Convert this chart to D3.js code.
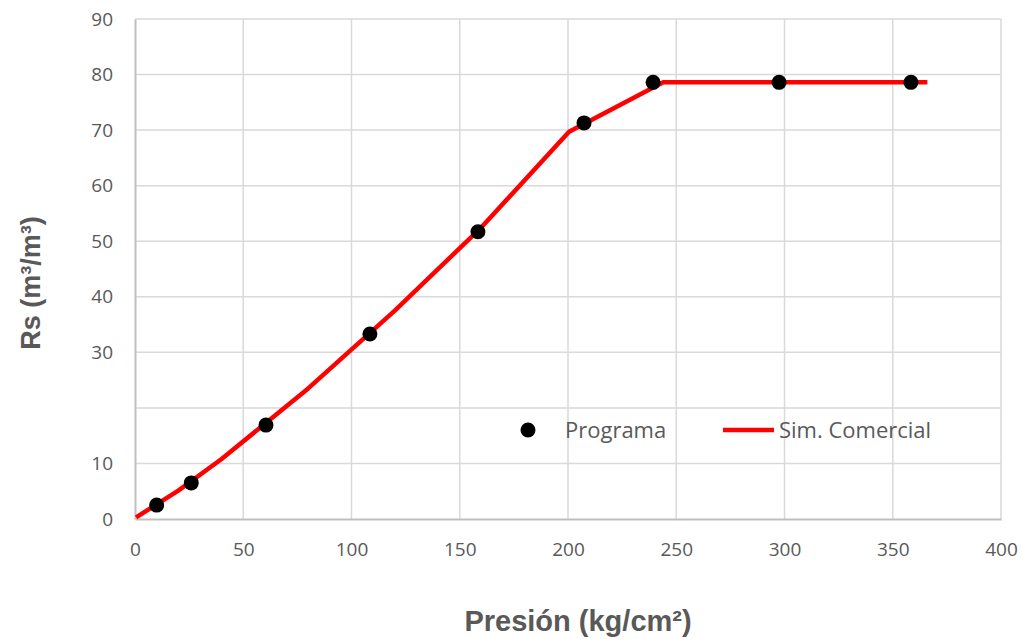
<!DOCTYPE html>
<html><head><meta charset="utf-8">
<script src="https://cdn.jsdelivr.net/npm/d3@7"></script>
<style>body{margin:0;background:#fff}svg{display:block}</style>
</head><body>
<svg id="c" width="1022" height="639"></svg>
<script>
const progX = [10, 26, 60.5, 108.5, 158.4, 207.4, 239.3, 297.5, 358.4];
const progY = [2.5, 6.5, 16.9, 33.3, 51.7, 71.3, 78.6, 78.6, 78.6];
const simX = [0.5, 20, 40, 80, 120, 160, 200.5, 244, 366];
const simY = [0.3, 5.1, 10.8, 23.5, 37.5, 52.5, 69.7, 78.6, 78.6];
const xTicks = [0, 50, 100, 150, 200, 250, 300, 350, 400];
const yTicks = [0, 10, 20, 30, 40, 50, 60, 70, 80, 90];
const yTickLabels = ["0", "10", "", "30", "40", "50", "60", "70", "80", "90"];
const seriesNames = ["Programa", "Sim. Comercial"];

const svg = d3.select("#c");
const L = 135, R = 1001, T = 19, B = 519;
const x = d3.scaleLinear().domain([0, 400]).range([L, R]);
const y = d3.scaleLinear().domain([0, 90]).range([B, T]);
const font = "'Open Sans', sans-serif";

// gridlines
svg.append("g").selectAll("line").data(xTicks.slice(1)).join("line")
  .attr("x1", d => x(d)).attr("x2", d => x(d)).attr("y1", T).attr("y2", B)
  .attr("stroke", "#d9d9d9").attr("stroke-width", 1.5);
svg.append("g").selectAll("line").data(yTicks.slice(1)).join("line")
  .attr("x1", L).attr("x2", R).attr("y1", d => y(d)).attr("y2", d => y(d))
  .attr("stroke", "#d9d9d9").attr("stroke-width", 1.5);

// axes
const xa = svg.append("g").attr("transform", `translate(0,${B})`)
  .call(d3.axisBottom(x).tickValues(xTicks).tickSize(0).tickPadding(24).tickFormat(d3.format("d")));
const ya = svg.append("g").attr("transform", `translate(${L},0)`)
  .call(d3.axisLeft(y).tickValues(yTicks).tickSize(0).tickPadding(22).tickFormat((d, i) => yTickLabels[i]));
[xa, ya].forEach(a => {
  a.select(".domain").attr("stroke", "#bfbfbf").attr("stroke-width", 2);
  a.selectAll("text").attr("font-family", font).attr("font-size", 19).attr("fill", "#595959");
});

// line
const simData = simX.map((d, i) => [d, simY[i]]);
svg.append("path").datum(simData)
  .attr("d", d3.line().x(d => x(d[0])).y(d => y(d[1])))
  .attr("fill", "none").attr("stroke", "#ff0000").attr("stroke-width", 4.5).attr("stroke-linejoin", "round");

// points
svg.append("g").selectAll("circle").data(progX.map((d, i) => [d, progY[i]])).join("circle")
  .attr("cx", d => x(d[0])).attr("cy", d => y(d[1])).attr("r", 7.5).attr("fill", "#000");

// legend
const lg = svg.append("g");
lg.append("circle").attr("cx", 528).attr("cy", 430).attr("r", 7.5).attr("fill", "#000");
lg.append("text").attr("x", 565).attr("y", 438).text(seriesNames[0])
  .attr("font-family", font).attr("font-size", 22).attr("fill", "#595959");
lg.append("line").attr("x1", 723).attr("x2", 774).attr("y1", 430).attr("y2", 430)
  .attr("stroke", "#ff0000").attr("stroke-width", 4.5);
lg.append("text").attr("x", 779).attr("y", 438).text(seriesNames[1])
  .attr("font-family", font).attr("font-size", 22).attr("fill", "#595959");

// axis titles
svg.append("text").attr("x", 578).attr("y", 631).attr("text-anchor", "middle")
  .attr("font-family", "'Liberation Sans', Arial, sans-serif").attr("font-weight", "bold")
  .attr("font-size", 29).attr("fill", "#595959").text("Presión (kg/cm²)");
svg.append("text").attr("transform", "translate(40,283) rotate(-90)").attr("text-anchor", "middle")
  .attr("font-family", "'Liberation Sans', Arial, sans-serif").attr("font-weight", "bold")
  .attr("font-size", 27).attr("fill", "#595959").text("Rs (m³/m³)");
</script>
</body></html>
